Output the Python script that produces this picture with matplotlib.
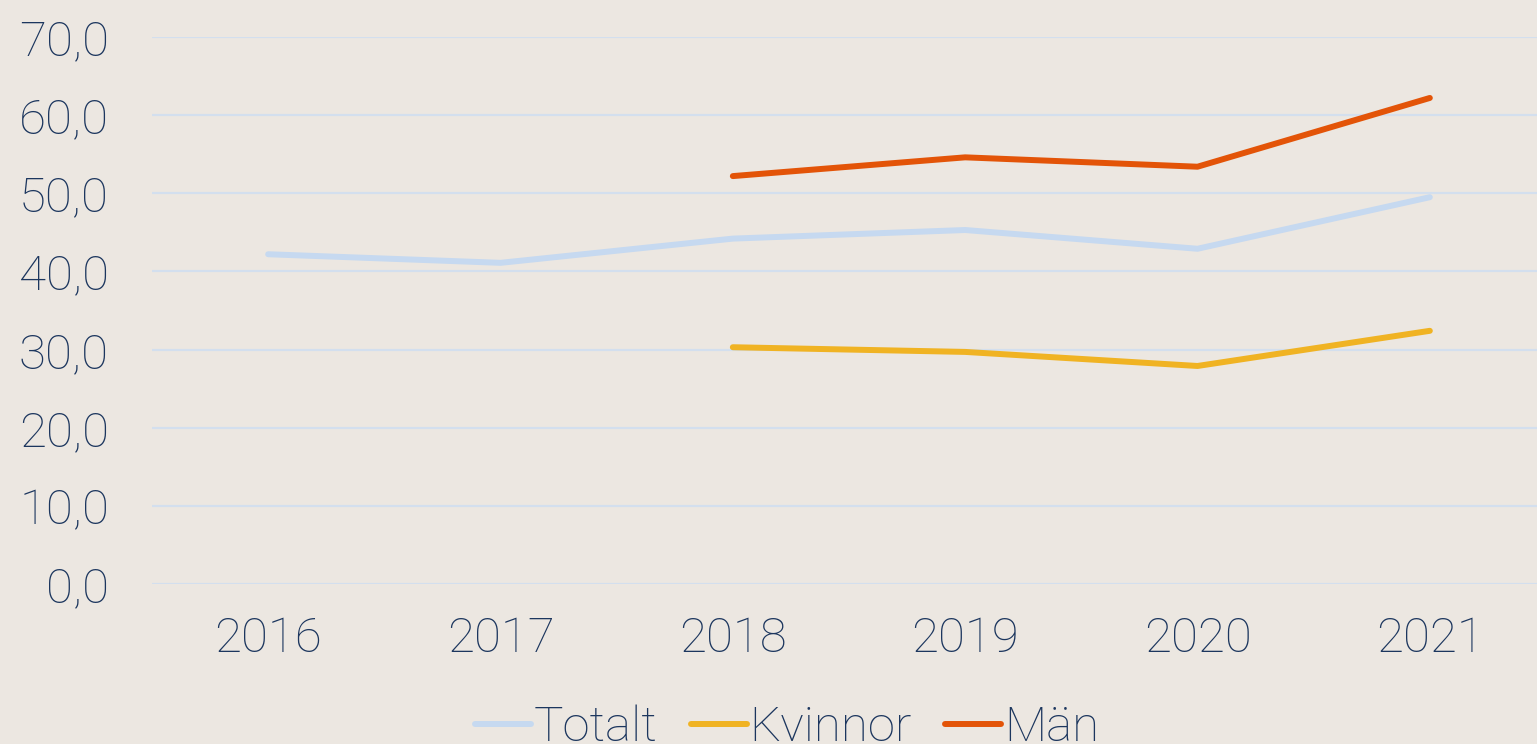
import matplotlib.pyplot as plt
from matplotlib.ticker import FuncFormatter

years = ["2016", "2017", "2018", "2019", "2020", "2021"]
totalt = [42.2, 41.1, 44.2, 45.3, 42.9, 49.5]
kvinnor = [None, None, 30.3, 29.7, 27.9, 32.4]
man = [None, None, 52.2, 54.6, 53.4, 62.2]

bg = "#ECE7E1"
txt = "#1C365E"

plt.rcParams["font.family"] = ["Roboto", "DejaVu Sans"]
plt.rcParams["font.weight"] = "light"

fig = plt.figure(figsize=(15.37, 7.44), dpi=100, facecolor=bg)
ax = fig.add_axes([152 / 1537, 160 / 744, 1394 / 1537, 547 / 744])
ax.set_facecolor(bg)

x = list(range(len(years)))


def seg(vals):
    return [v if v is not None else float("nan") for v in vals]


lw = 4.3
ax.plot(x, seg(totalt), color="#C6D9F0", lw=lw, solid_capstyle="round", label="Totalt")
ax.plot(x, seg(kvinnor), color="#F0B323", lw=lw, solid_capstyle="round", label="Kvinnor")
ax.plot(x, seg(man), color="#E35408", lw=lw, solid_capstyle="round", label="Män")

ax.set_xlim(-0.5, 5.5)
ax.set_ylim(0, 70)
ax.set_yticks(range(0, 71, 10))
ax.yaxis.set_major_formatter(FuncFormatter(lambda v, p: f"{v:.1f}".replace(".", ",")))
ax.set_xticks(x)
ax.set_xticklabels(years)
ax.grid(axis="y", color="#D3DFEE", lw=1.6)
ax.set_axisbelow(True)
for s in ax.spines.values():
    s.set_visible(False)
fs = 35.5
ax.tick_params(axis="y", length=0, pad=31, labelsize=fs, labelcolor=txt)
ax.tick_params(axis="x", length=0, pad=23, labelsize=fs, labelcolor=txt)

fig.legend(loc="center", bbox_to_anchor=(787 / 1537, 1 - 728 / 744), ncol=3,
           frameon=False, fontsize=fs, labelcolor=txt, handlelength=1.14,
           handletextpad=0.06, columnspacing=0.67, borderpad=0)

fig.savefig("out.png", dpi=100, facecolor=bg)
